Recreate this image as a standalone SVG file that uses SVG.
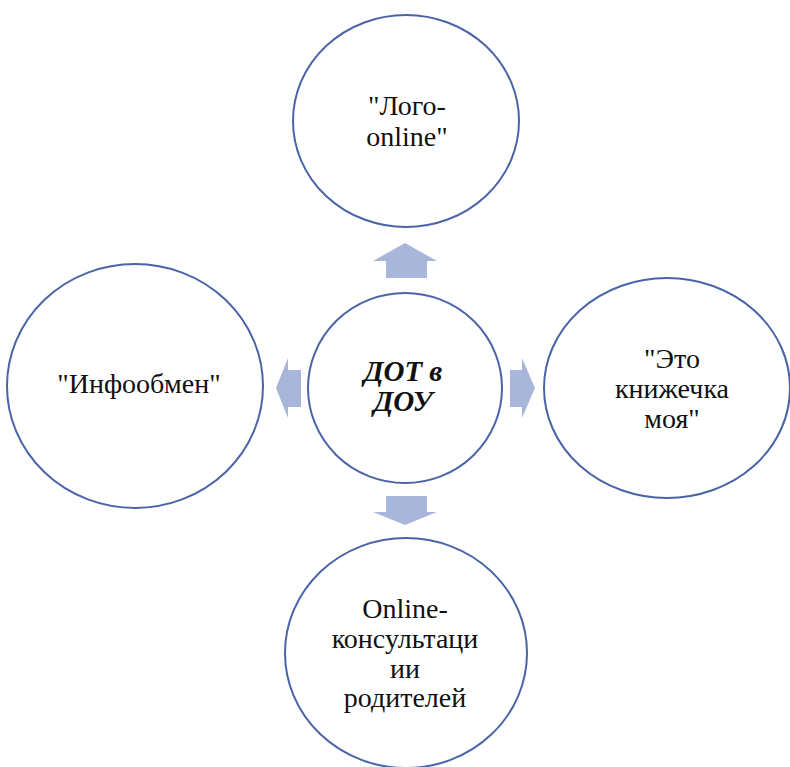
<svg xmlns="http://www.w3.org/2000/svg" width="790" height="767" viewBox="0 0 790 767">
<style>
.node ellipse{fill:#fff;stroke:#4a64a8;stroke-width:2}
text{font-family:'Liberation Serif','Times New Roman',serif;font-size:28px;fill:#111;text-anchor:middle}
.c{font-weight:bold;font-style:italic;font-size:29px}
.arr{fill:#a8b6da}
</style>
<rect width="790" height="767" fill="#fff"/>
<g id="connectors">
<polygon class="arr" points="405,243 437,261 427,261 427,278 386,278 386,261 373,261"/>
<polygon class="arr" points="276,388 288,358 288,370 301,370 301,407 288,407 288,418"/>
<polygon class="arr" points="535,388 522,358 522,370 510,370 510,407 522,407 522,418"/>
<polygon class="arr" points="405,525 437,512 427,512 427,496 386,496 386,512 373,512"/>
</g>
<g id="node-top" class="node">
<ellipse cx="406" cy="121" rx="113" ry="106"/>
<text x="407" y="115">"Лого-</text>
<text x="407" y="146">online"</text>
</g>
<g id="node-center" class="node">
<ellipse cx="405" cy="388" rx="97" ry="95"/>
<text class="c" x="403" y="381">ДОТ в</text>
<text class="c" x="403" y="411">ДОУ</text>
</g>
<g id="node-left" class="node">
<ellipse cx="135" cy="386" rx="128" ry="122"/>
<text x="139" y="393">"Инфообмен"</text>
</g>
<g id="node-right" class="node">
<ellipse cx="667" cy="388" rx="123" ry="110"/>
<text x="672" y="368">"Это</text>
<text x="672" y="398">книжечка</text>
<text x="672" y="428">моя"</text>
</g>
<g id="node-bottom" class="node">
<ellipse cx="406" cy="653" rx="121" ry="115"/>
<text x="405" y="618">Online-</text>
<text x="405" y="648">консультаци</text>
<text x="405" y="678">ии</text>
<text x="405" y="707">родителей</text>
</g>
</svg>
